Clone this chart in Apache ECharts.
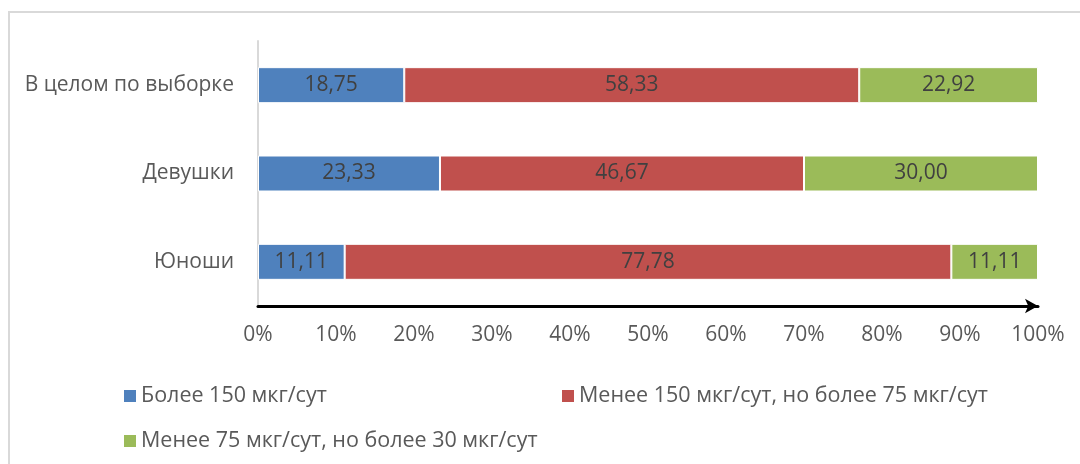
<!DOCTYPE html>
<html>
<head>
<meta charset="utf-8">
<script src="https://cdn.jsdelivr.net/npm/echarts@6/dist/echarts.min.js"></script>
<style>
html,body{margin:0;padding:0;background:#fff;}
#chart{width:1080px;height:464px;}
</style>
</head>
<body>
<div id="chart"></div>
<script>
// категории снизу вверх
var categories=['Юноши','Девушки','В целом по выборке'];
var seriesNames=['Более 150 мкг/сут','Менее 150 мкг/сут, но более 75 мкг/сут','Менее 75 мкг/сут, но более 30 мкг/сут'];
var more150=[11.11,23.33,18.75];
var from75to150=[77.78,46.67,58.33];
var from30to75=[11.11,30.00,22.92];
var colors=['#4f81bd','#c0504d','#9bbb59'];

var font='"Open Sans", "Liberation Sans", sans-serif';
var chart=echarts.init(document.getElementById('chart'));

function fmt(p){return p.value.toFixed(2).replace('.',',');}

function makeSeries(name,data,color){
	return {
		name:name,
		type:'bar',
		stack:'all',
		barWidth:36,
		data:data,
		itemStyle:{color:color,borderColor:'#fff',borderWidth:1},
		label:{
			show:true,
			formatter:fmt,
			color:'#404040',
			fontSize:21,
			fontFamily:font
		}
	};
}

function legendAt(name,left,top){
	return {
		data:[name],
		left:left,
		top:top,
		icon:'rect',
		itemWidth:14,
		itemHeight:14,
		itemGap:6,
		selectedMode:false,
		textStyle:{color:'#595959',fontSize:21.5,fontFamily:font,padding:[0,0,0,-1]}
	};
}

option={
	animation:false,
	graphic:[{
		type:'rect',
		shape:{x:9,y:12,width:1090,height:470},
		style:{fill:'none',stroke:'#d9d9d9',lineWidth:2}
	}],
	legend:[
		legendAt(seriesNames[0],117,380),
		legendAt(seriesNames[1],555,380),
		legendAt(seriesNames[2],117,425)
	],
	grid:{
		left:258,
		right:42,
		top:41,
		bottom:158
	},
	xAxis:{
		type:'value',
		min:0,
		max:100,
		interval:10,
		axisLabel:{
			formatter:'{value}%',
			color:'#595959',
			fontSize:21,
			fontFamily:font,
			margin:19
		},
		axisLine:{
			show:true,
			symbol:['none','arrow'],
			symbolSize:[11,13],
			lineStyle:{color:'#000',width:3}
		},
		axisTick:{show:false},
		splitLine:{show:false}
	},
	yAxis:{
		type:'category',
		data:categories,
		axisLabel:{
			color:'#595959',
			fontSize:21,
			fontFamily:font,
			margin:24
		},
		axisLine:{show:true,lineStyle:{color:'#d9d9d9',width:2}},
		axisTick:{show:false}
	},
	series:[
		makeSeries(seriesNames[0],more150,colors[0]),
		makeSeries(seriesNames[1],from75to150,colors[1]),
		makeSeries(seriesNames[2],from30to75,colors[2])
	]
};
chart.setOption(option);
</script>
</body>
</html>
